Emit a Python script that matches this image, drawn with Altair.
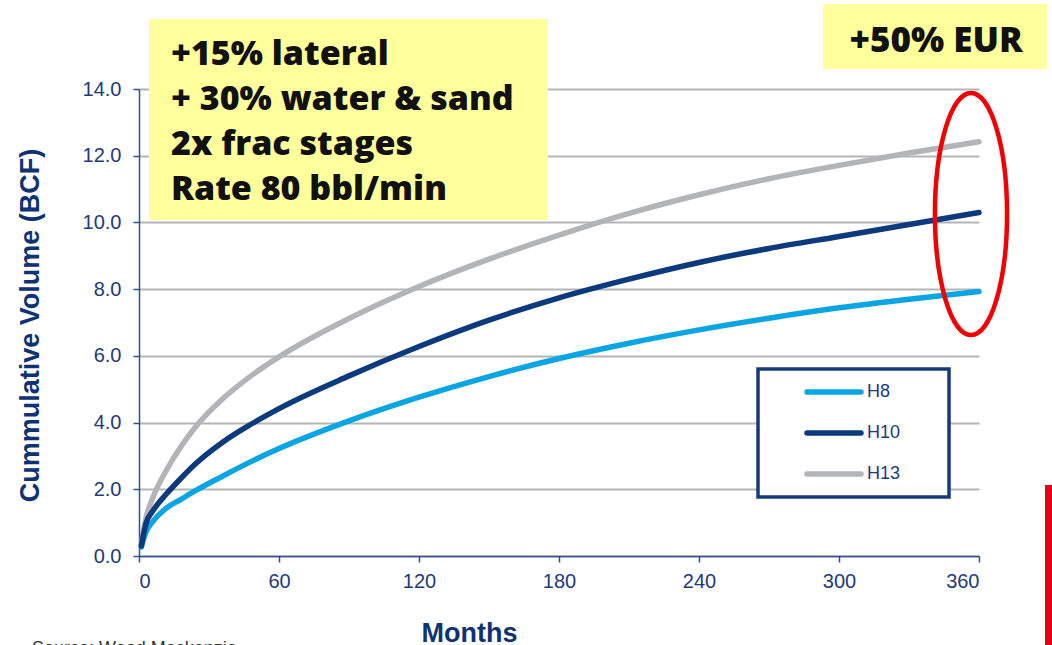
import altair as alt
import pandas as pd

months = [1, 3, 6, 12, 18, 24, 36, 48, 60, 90, 120, 150, 180, 210, 240, 270, 300, 330, 360]
h8 = [0.27, 0.72, 1.04, 1.45, 1.70, 1.95, 2.40, 2.83, 3.22, 4.05, 4.76, 5.38, 5.92, 6.38, 6.78, 7.13, 7.44, 7.70, 7.93]
h10 = [0.30, 0.98, 1.36, 1.88, 2.33, 2.75, 3.42, 3.95, 4.42, 5.40, 6.28, 7.07, 7.74, 8.30, 8.80, 9.22, 9.58, 9.94, 10.30]
h13 = [0.35, 1.14, 1.76, 2.60, 3.28, 3.85, 4.72, 5.40, 5.97, 7.12, 8.08, 8.90, 9.62, 10.27, 10.83, 11.31, 11.71, 12.08, 12.42]

series_names = ["H8", "H10", "H13"]
series_colors = ["#0AA5E2", "#0C3A7D", "#B3B4B8"]
draw_order = ["H13", "H8", "H10"]
x_ticks = [0, 60, 120, 180, 240, 300, 360]
y_ticks = [0, 2, 4, 6, 8, 10, 12, 14]
notes = ["+15% lateral", "+ 30% water & sand", "2x frac stages", "Rate 80 bbl/min"]
eur_note = "+50% EUR"
source_note = "Source: Wood Mackenzie"

rows = []
for name, vals in zip(series_names, [h8, h10, h13]):
    for m, v in zip(months, vals):
        rows.append({"month": m, "volume": v, "series": name})
df = pd.DataFrame(rows)
one = pd.DataFrame({"a": [0]})

NAVY_TXT = "#1E3A7A"
AXIS_COL = "#2F4E8E"
NOTE_FONT = "Open Sans"

x_enc = alt.X(
    "month:Q",
    scale=alt.Scale(domain=[0, 360], nice=False),
    axis=alt.Axis(
        values=x_ticks, grid=False, title="Months", titleFontSize=27,
        titleX=330, titleY=85, titleBaseline="alphabetic", titleAlign="center",
        labelPadding=9, tickSize=6,
    ),
)
y_enc = alt.Y(
    "volume:Q",
    scale=alt.Scale(domain=[0, 14], nice=False),
    axis=alt.Axis(
        values=y_ticks, format=".1f", grid=True, title="Cummulative Volume (BCF)",
        titleFontSize=27, titleX=-109, titleY=236, titleAngle=270,
        titleBaseline="middle", titleAlign="center", labelPadding=12, tickSize=6,
    ),
)

layers = []
for name in draw_order:
    col = series_colors[series_names.index(name)]
    layers.append(
        alt.Chart(df).transform_filter(alt.datum.series == name)
        .mark_line(color=col, strokeWidth=5.5, strokeCap="round", strokeJoin="round",
                   interpolate="monotone")
        .encode(x=x_enc, y=y_enc)
    )

# annotation box 1
layers.append(alt.Chart(one).mark_rect(color="#FFFF9C").encode(
    x=alt.value(10), x2=alt.value(409), y=alt.value(-70), y2=alt.value(131)))
layers.append(alt.Chart(one).mark_text(
    text=notes, align="left", baseline="alphabetic", font=NOTE_FONT, fontWeight=800,
    fontSize=34, lineHeight=45, color="#111111").encode(x=alt.value(32), y=alt.value(-24)))

# annotation box 2
layers.append(alt.Chart(one).mark_rect(color="#FFFF9C").encode(
    x=alt.value(684), x2=alt.value(908), y=alt.value(-85), y2=alt.value(-20)))
layers.append(alt.Chart(one).mark_text(
    text=eur_note, align="center", baseline="alphabetic", font=NOTE_FONT, fontWeight=800,
    fontSize=35, color="#111111").encode(x=alt.value(797), y=alt.value(-37)))

# red ellipse
a, k = 0.298, 0.5523
ka = round(k * a, 4)
ell = (f"M 0 -1 C {ka} -1 {a} -{k} {a} 0 C {a} {k} {ka} 1 0 1 "
       f"C -{ka} 1 -{a} {k} -{a} 0 C -{a} -{k} -{ka} -1 0 -1 Z")
layers.append(alt.Chart(one).mark_point(
    shape=ell, filled=False, stroke="#F00000", strokeWidth=4.5, size=242 * 242, opacity=1
).encode(x=alt.value(832), y=alt.value(125)))

# legend box
layers.append(alt.Chart(one).mark_rect(fill="white", stroke="#173A7A", strokeWidth=3.5).encode(
    x=alt.value(619), x2=alt.value(810), y=alt.value(280), y2=alt.value(408)))
legend_y = [303, 344, 385]
for name, col, ly in zip(series_names, series_colors, legend_y):
    layers.append(alt.Chart(one).mark_rule(color=col, strokeWidth=5.5, strokeCap="round").encode(
        x=alt.value(668), x2=alt.value(722), y=alt.value(ly)))
    layers.append(alt.Chart(one).mark_text(
        text=name, align="left", baseline="middle", font="Liberation Sans", fontSize=18,
        color=NAVY_TXT).encode(x=alt.value(728), y=alt.value(ly)))

# red bar at right edge
layers.append(alt.Chart(one).mark_rect(color="#E2001A").encode(
    x=alt.value(906), x2=alt.value(920), y=alt.value(396), y2=alt.value(560)))

# source (mostly cut off by the bottom edge, as in the original)
layers.append(alt.Chart(one).mark_text(
    text=source_note, align="left", baseline="alphabetic", font="Liberation Sans", fontSize=18,
    color="#333333").encode(x=alt.value(-107), y=alt.value(565)))

chart = alt.layer(*layers).properties(
    width=840, height=467,
    padding={"left": 139, "top": 89, "right": 73, "bottom": 89},
    autosize=alt.AutoSizeParams(type="none"),
).configure_view(stroke=None).configure_axis(
    labelFont="Liberation Sans", labelFontSize=20, labelColor=NAVY_TXT,
    titleFont="Liberation Sans", titleFontWeight="bold", titleColor="#0F3272",
    domainColor=AXIS_COL, domainWidth=1.5, tickColor=AXIS_COL, tickWidth=1.5,
    gridColor="#B5B5B5", gridWidth=2,
)

chart.save("out.html", embed_options={"renderer": "svg", "actions": False})
